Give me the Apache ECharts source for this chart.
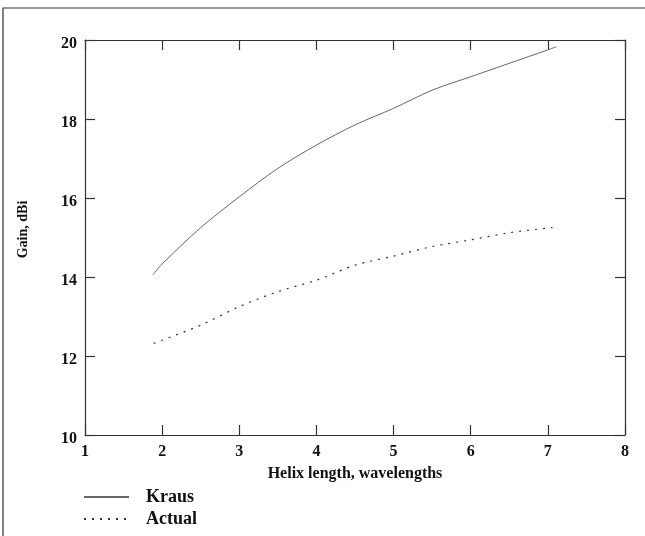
<!DOCTYPE html>
<html>
<head>
<meta charset="utf-8">
<script src="https://cdn.jsdelivr.net/npm/echarts@6/dist/echarts.min.js"></script>
<style>
  html, body { margin: 0; padding: 0; background: #fff; }
  #chart { width: 645px; height: 536px; }
</style>
</head>
<body>
<div id="chart"></div>
<script>
// Helix length (wavelengths) vs gain (dBi)
const krausX = [1.88, 2.0, 2.5, 3.0, 3.5, 4.0, 4.5, 5.0, 5.5, 6.0, 6.5, 7.0, 7.11];
const krausY = [14.05, 14.33, 15.25, 16.03, 16.75, 17.34, 17.85, 18.27, 18.73, 19.07, 19.41, 19.75, 19.83];
const actualX = [1.89, 2.0, 2.5, 3.0, 3.5, 4.0, 4.5, 5.0, 5.5, 6.0, 6.5, 7.0, 7.06];
const actualY = [12.32, 12.4, 12.78, 13.25, 13.63, 13.92, 14.3, 14.53, 14.77, 14.94, 15.12, 15.24, 15.25];

const font = "Liberation Serif";
const axisColor = "#333";

const chart = echarts.init(document.getElementById("chart"));

const xBase = {
  type: "value",
  min: 1,
  max: 8,
  interval: 1,
  axisLine: { show: true, lineStyle: { color: axisColor, width: 1.2 } },
  axisTick: { show: true, inside: true, length: 10, lineStyle: { color: axisColor, width: 1.2 } },
  splitLine: { show: false }
};
const yBase = {
  type: "value",
  min: 10,
  max: 20,
  interval: 2,
  axisLine: { show: true, lineStyle: { color: axisColor, width: 1.2 } },
  axisTick: { show: true, inside: true, length: 10, lineStyle: { color: axisColor, width: 1.2 } },
  splitLine: { show: false }
};

const option = {
  animation: false,
  backgroundColor: "#fff",
  grid: { left: 85, right: 20, top: 40, bottom: 101 },
  graphic: [
    {
      type: "rect",
      shape: { x: 3, y: 8, width: 700, height: 600 },
      style: { fill: "none", stroke: axisColor, lineWidth: 1.2 },
      silent: true
    }
  ],
  legend: {
    orient: "vertical",
    left: 83,
    top: 487,
    padding: 0,
    itemWidth: 45,
    itemHeight: 12,
    itemGap: 2,
    data: ["Kraus", "Actual"],
    itemStyle: { opacity: 0 },
    textStyle: { fontFamily: font, fontWeight: "bold", fontSize: 18, lineHeight: 20, color: "#111", padding: [0, 0, 0, 12] }
  },
  xAxis: [
    Object.assign({}, xBase, {
      position: "bottom",
      name: "Helix length, wavelengths",
      nameLocation: "middle",
      nameGap: 31,
      nameTextStyle: { fontFamily: font, fontWeight: "bold", fontSize: 16, color: "#111" },
      axisLabel: { margin: 9, fontFamily: font, fontWeight: "bold", fontSize: 16, color: "#111" }
    }),
    Object.assign({}, xBase, { position: "top", axisLabel: { show: false } })
  ],
  yAxis: [
    Object.assign({}, yBase, {
      position: "left",
      name: "Gain, dBi",
      nameLocation: "middle",
      nameGap: 55,
      nameTextStyle: { fontFamily: font, fontWeight: "bold", fontSize: 14, color: "#111", padding: [0, 0, 0, 16] },
      axisLabel: { margin: 8, verticalAlign: "top", lineHeight: 8, fontFamily: font, fontWeight: "bold", fontSize: 16, color: "#111" }
    }),
    Object.assign({}, yBase, { position: "right", axisLabel: { show: false } })
  ],
  series: [
    {
      name: "Kraus",
      type: "line",
      smooth: 0.3,
      showSymbol: false,
      symbol: "none",
      data: krausX.map((x, i) => [x, krausY[i]]),
      lineStyle: { color: "#666", width: 1 },
      itemStyle: { color: "#666" }
    },
    {
      name: "Actual",
      type: "line",
      smooth: 0.3,
      showSymbol: false,
      symbol: "none",
      data: actualX.map((x, i) => [x, actualY[i]]),
      lineStyle: { color: "#333", width: 1.2, type: [2, 6] },
      itemStyle: { color: "#333" }
    }
  ]
};

chart.setOption(option);
</script>
</body>
</html>
